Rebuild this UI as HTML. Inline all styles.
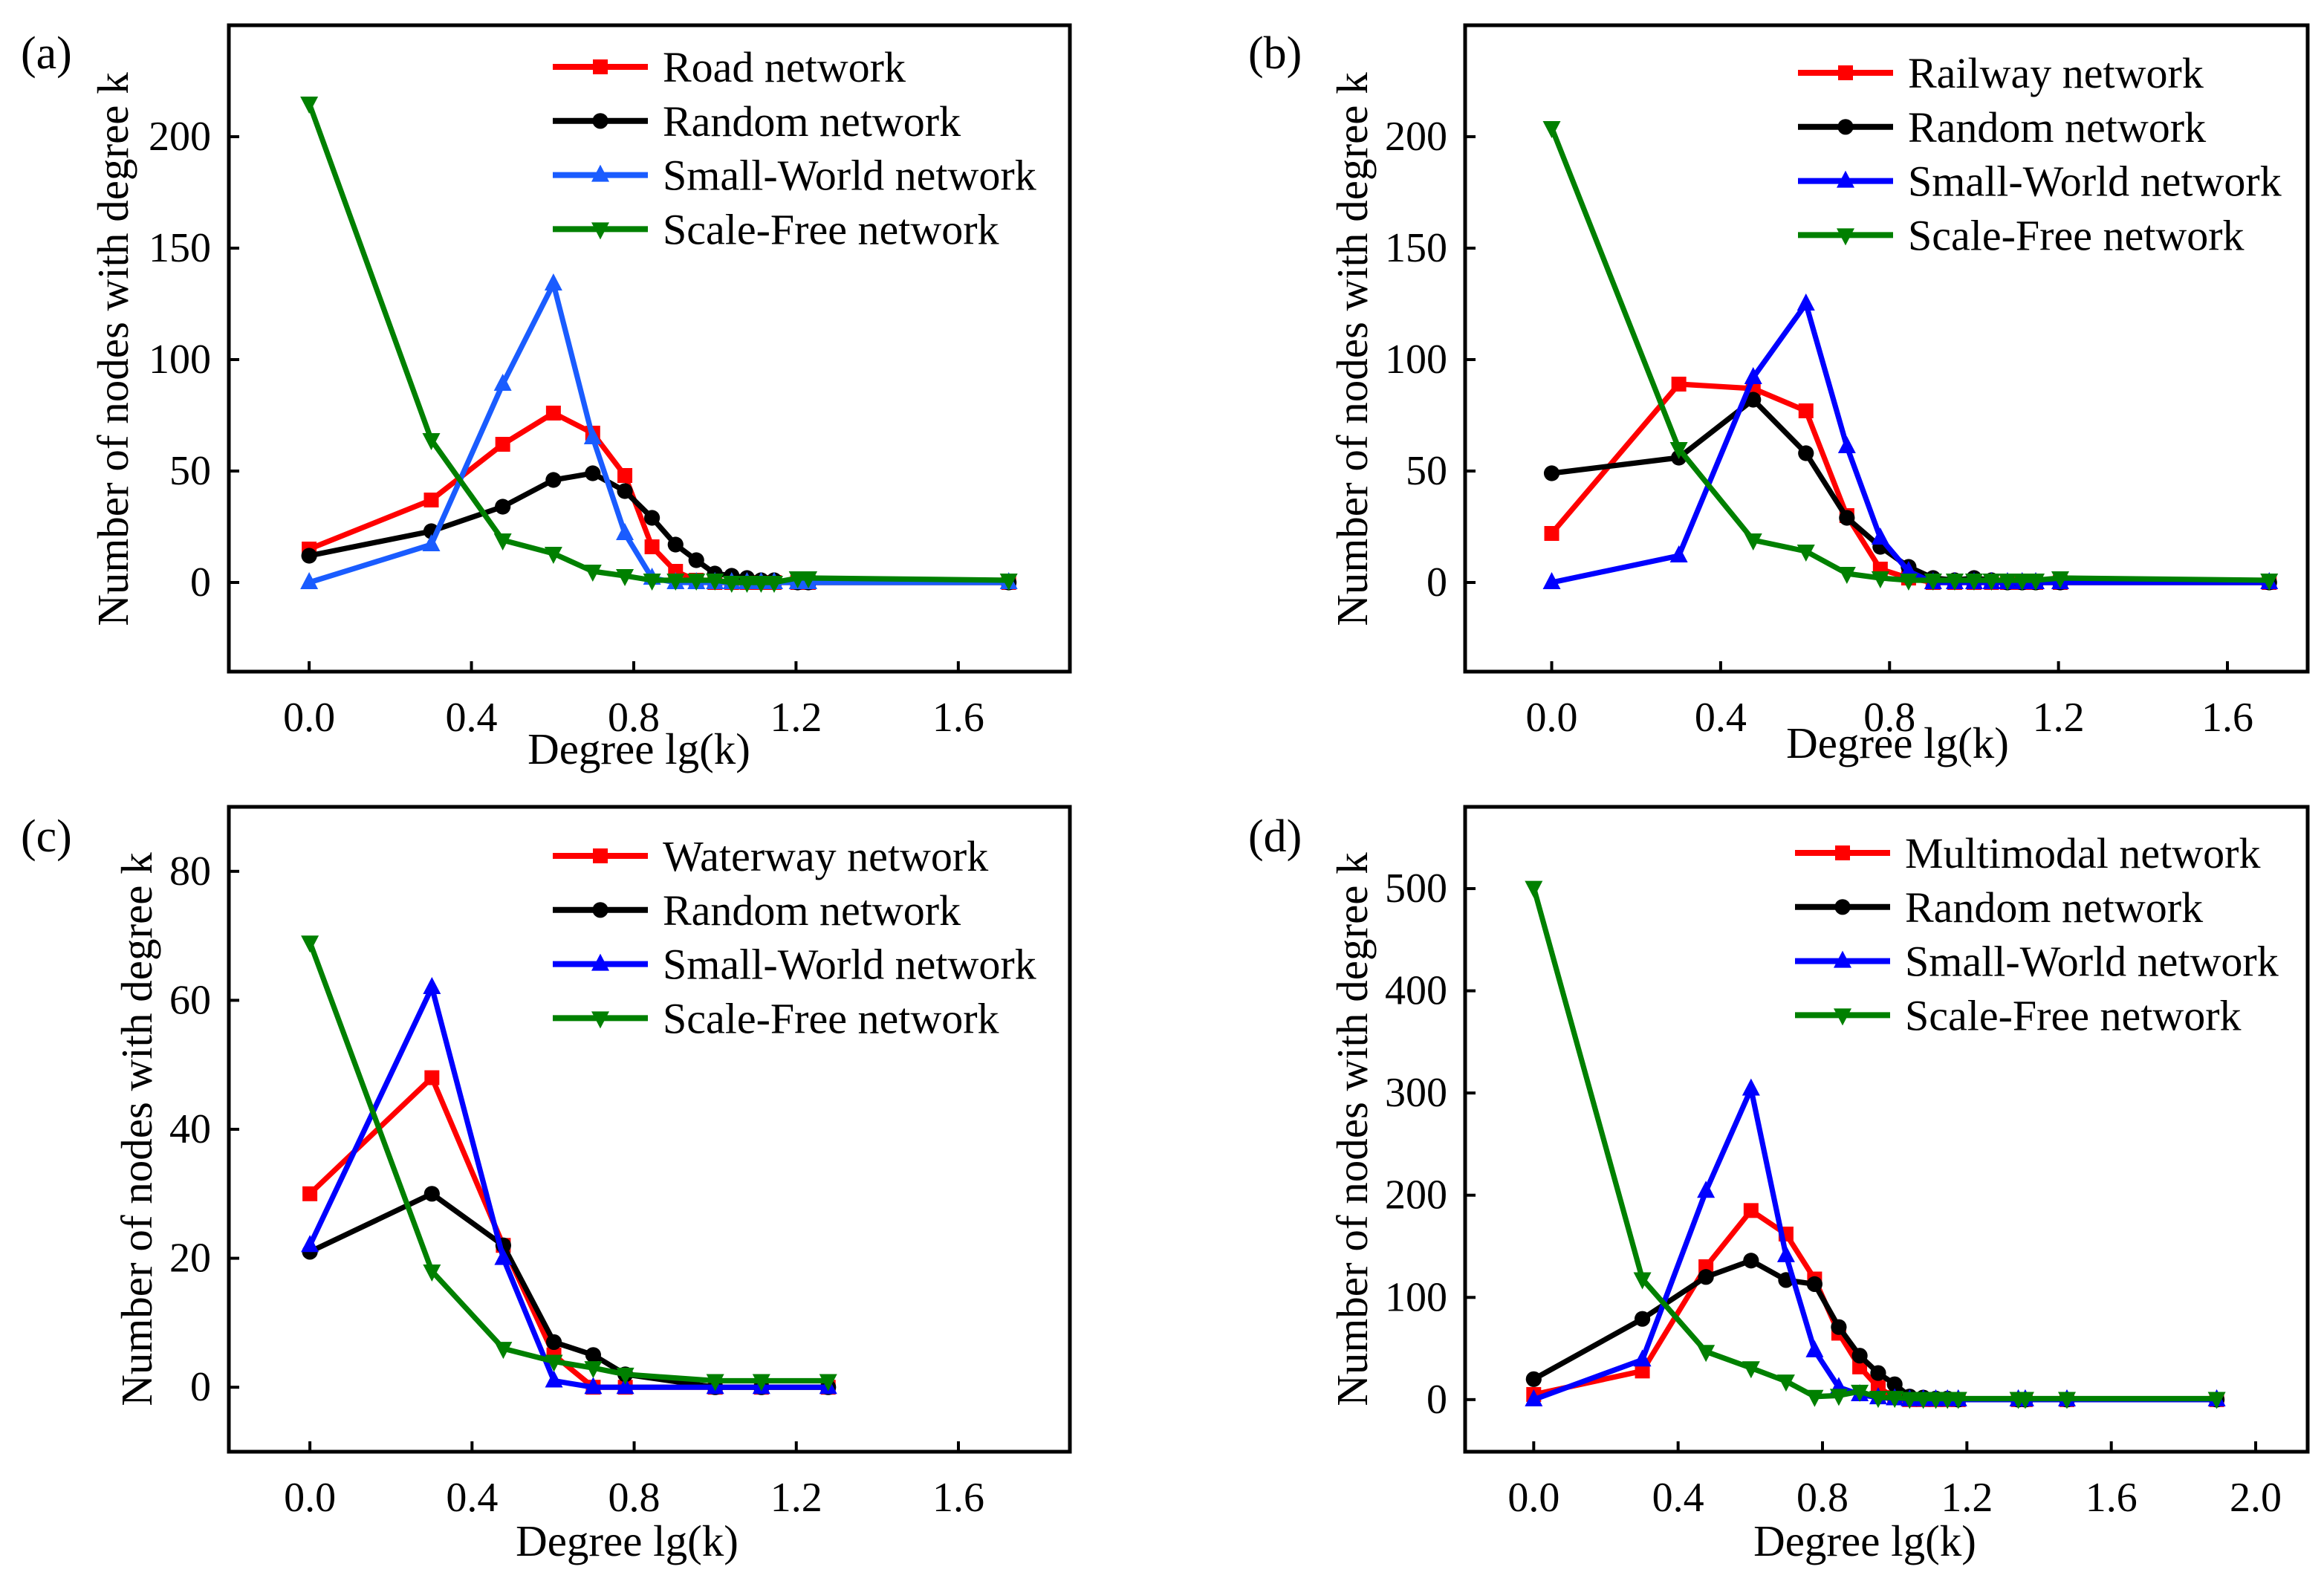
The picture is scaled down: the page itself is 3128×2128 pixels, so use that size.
<!DOCTYPE html>
<html><head><meta charset="utf-8"><style>
html,body{margin:0;padding:0;background:#fff;}
svg{display:block;}
text{font-family:"Liberation Serif","Times New Roman",serif;fill:#000;}
</style></head><body>
<svg id="fig" width="3128" height="2128" viewBox="0 0 1564 1064" preserveAspectRatio="none" xmlns="http://www.w3.org/2000/svg"></svg>
<script>
// ---- Panel (a) data ----
const kA = [1,2,3,4,5,6,7,8,9,10,11,12,13,14,16,17,53];
const roadA = [15,37,62,76,67,48,16,5,1,0,0,0,0,0,0,0,0];
const randA = [12,23,34,46,49,41,29,17,10,4,3,2,1,1,0,0,0];
const swA = [0,17,89,134,65,22,2,0,0,0,0,0,0,0,0,0,0];
const sfA = [215,64,19,13,5,3,1,1,1,1,0,0,0,0,2,2,1];
const yTicksA = [0,50,100,150,200];
const xTicksA = [0,0.4,0.8,1.2,1.6];
// ---- Panel (b) data ----
const kB = [1,2,3,4,5,6,7,8,9,10,11,12,13,14,16,50];
const railB = [22,89,87,77,30,6,2,0,0,0,0,0,0,0,0,0];
const randB = [49,56,82,58,29,16,7,2,1,2,1,0,0,0,0,0];
const swB = [0,12,92,125,61,20,5,0,0,0,0,0,0,0,0,0];
const sfB = [204,60,19,14,4,2,1,1,1,1,1,1,1,1,2,1];
const yTicksB = [0,50,100,150,200];
const xTicksB = [0,0.4,0.8,1.2,1.6];
// ---- Panel (c) data ----
const kC = [1,2,3,4,5,6,10,13,19];
const waterC = [30,48,22,5,0,0,0,0,0];
const randC = [21,30,22,7,5,2,0,0,0];
const swC = [22,62,20,1,0,0,0,0,0];
const sfC = [69,18,6,4,3,2,1,1,1];
const yTicksC = [0,20,40,60,80];
const xTicksC = [0,0.4,0.8,1.2,1.6];
// ---- Panel (d) data ----
const kD = [1,2,3,4,5,6,7,8,9,10,11,12,13,14,15,22,23,30,78];
const multiD = [5,28,130,185,162,118,65,32,12,2,0,0,0,0,0,0,0,0,0];
const randD = [20,79,120,136,117,113,71,43,26,15,3,2,1,1,0,0,0,0,0];
const swD = [0,39,204,304,141,48,12,5,2,1,0,0,0,0,0,0,0,0,0];
const sfD = [501,118,47,31,18,3,4,8,2,2,1,1,1,1,1,1,1,1,1];
const yTicksD = [0,100,200,300,400,500];
const xTicksD = [0,0.4,0.8,1.2,1.6,2.0];

const NS="http://www.w3.org/2000/svg";
const svg=document.getElementById('fig');
function mk(tag,attrs,parent){const e=document.createElementNS(NS,tag);for(const k in attrs)e.setAttribute(k,attrs[k]);(parent||svg).appendChild(e);return e;}
function marker(g,type,x,y,color){
  let e;
  if(type==='sq'){e=mk('rect',{x:x-5,y:y-5,width:10,height:10,fill:color},g);}
  else if(type==='ci'){e=mk('circle',{cx:x,cy:y,r:5.3,fill:color},g);}
  else if(type==='up'){e=mk('polygon',{points:`${x},${y-7} ${x-6},${y+4.5} ${x+6},${y+4.5}`,fill:color},g);}
  else {e=mk('polygon',{points:`${x},${y+7} ${x-6},${y-4.5} ${x+6},${y-4.5}`,fill:color},g);}
  
  
}
function panel(p){
  const g=mk('g',{});
  
  
  const X=v=>p.L+(v-p.x0)/(p.x1-p.x0)*(p.R-p.L);
  const Y=v=>p.B-(v-p.y0)/(p.y1-p.y0)*(p.B-p.T);
  const ax=mk('rect',{x:p.L,y:p.T,width:p.R-p.L,height:p.B-p.T,fill:'none',stroke:'#000','stroke-width':2.5},g);
  
  
  p.xt.forEach(v=>{
    const x=X(v);
    const t=mk('line',{x1:x,x2:x,y1:p.B,y2:p.B-7,stroke:'#000','stroke-width':2},g);
    
    
    const l=mk('text',{x:x,y:p.B+40,'text-anchor':'middle','font-size':28},g);
    l.textContent=v.toFixed(1);
    
    
  });
  p.yt.forEach(v=>{
    const y=Y(v);
    const t=mk('line',{x1:p.L,x2:p.L+7,y1:y,y2:y,stroke:'#000','stroke-width':2},g);
    
    
    const l=mk('text',{x:p.L-12,y:y+9,'text-anchor':'end','font-size':28},g);
    l.textContent=String(v);
    
    
  });
  const xt=mk('text',{x:p.xtx,y:p.xty,'text-anchor':'middle','font-size':29.5},g);
  xt.textContent='Degree lg(k)';
  
  
  const yt=mk('text',{x:0,y:0,'text-anchor':'middle','font-size':29.5,transform:`translate(${p.ytx},${p.yty}) rotate(-90)`},g);
  yt.textContent='Number of nodes with degree k';
  
  
  const pl=mk('text',{x:p.plx,y:p.ply,'font-size':31},g);
  pl.textContent='('+p.id+')';
  
  
  const xs=p.k.map(k=>Math.log10(k));
  p.series.forEach((s,i)=>{
    const sg=mk('g',{},g);
    
    
    const pts=xs.map((x,j)=>X(x)+','+Y(s.v[j])).join(' ');
    mk('polyline',{points:pts,fill:'none',stroke:s.c,'stroke-width':3.6,'stroke-linejoin':'round'},sg);
    xs.forEach((x,j)=>marker(sg,s.m,X(x),Y(s.v[j]),s.c));
  });
  p.series.forEach((s,i)=>{
    const lg=mk('g',{},g);
    
    
    const y=p.lgy+i*36.4;
    mk('line',{x1:p.lgx,x2:p.lgx+64,y1:y,y2:y,stroke:s.c,'stroke-width':4},lg);
    marker(lg,s.m,p.lgx+32,y,s.c);
    const t=mk('text',{x:p.lgx+74,y:y+10,'font-size':29},lg);
    t.textContent=s.name;
  });
}
const RED='#ff0000',BLK='#000000',BLU='#0000ff',GRN='#008000';
panel({id:'a',L:154,R:720,T:17,B:452,x0:-0.198,x1:1.875,y0:-40,y1:250,k:kA,xt:xTicksA,yt:yTicksA,
  xtx:430,xty:514,ytx:86,yty:235,plx:14,ply:46,lgx:372,lgy:45,
  series:[{key:'road',name:'Road network',v:roadA,c:RED,m:'sq'},{key:'random',name:'Random network',v:randA,c:BLK,m:'ci'},
  {key:'small-world',name:'Small-World network',v:swA,c:'#1a5cff',m:'up'},{key:'scale-free',name:'Scale-Free network',v:sfA,c:GRN,m:'dn'}]});
panel({id:'b',L:986,R:1553,T:17,B:452,x0:-0.205,x1:1.79,y0:-40,y1:250,k:kB,xt:xTicksB,yt:yTicksB,
  xtx:1277,xty:510,ytx:920,yty:235,plx:840,ply:46,lgx:1210,lgy:49,
  series:[{key:'railway',name:'Railway network',v:railB,c:RED,m:'sq'},{key:'random',name:'Random network',v:randB,c:BLK,m:'ci'},
  {key:'small-world',name:'Small-World network',v:swB,c:BLU,m:'up'},{key:'scale-free',name:'Scale-Free network',v:sfB,c:GRN,m:'dn'}]});
panel({id:'c',L:154,R:720,T:543,B:977,x0:-0.2,x1:1.875,y0:-10,y1:90,k:kC,xt:xTicksC,yt:yTicksC,
  xtx:422,xty:1047,ytx:102,yty:760,plx:14,ply:573,lgx:372,lgy:576,
  series:[{key:'waterway',name:'Waterway network',v:waterC,c:RED,m:'sq'},{key:'random',name:'Random network',v:randC,c:BLK,m:'ci'},
  {key:'small-world',name:'Small-World network',v:swC,c:BLU,m:'up'},{key:'scale-free',name:'Scale-Free network',v:sfC,c:GRN,m:'dn'}]});
panel({id:'d',L:986,R:1553,T:543,B:977,x0:-0.19,x1:2.144,y0:-51,y1:580,k:kD,xt:xTicksD,yt:yTicksD,
  xtx:1255,xty:1047,ytx:920,yty:760,plx:840,ply:573,lgx:1208,lgy:574,
  series:[{key:'multimodal',name:'Multimodal network',v:multiD,c:RED,m:'sq'},{key:'random',name:'Random network',v:randD,c:BLK,m:'ci'},
  {key:'small-world',name:'Small-World network',v:swD,c:BLU,m:'up'},{key:'scale-free',name:'Scale-Free network',v:sfD,c:GRN,m:'dn'}]});
</script>
</body></html>
